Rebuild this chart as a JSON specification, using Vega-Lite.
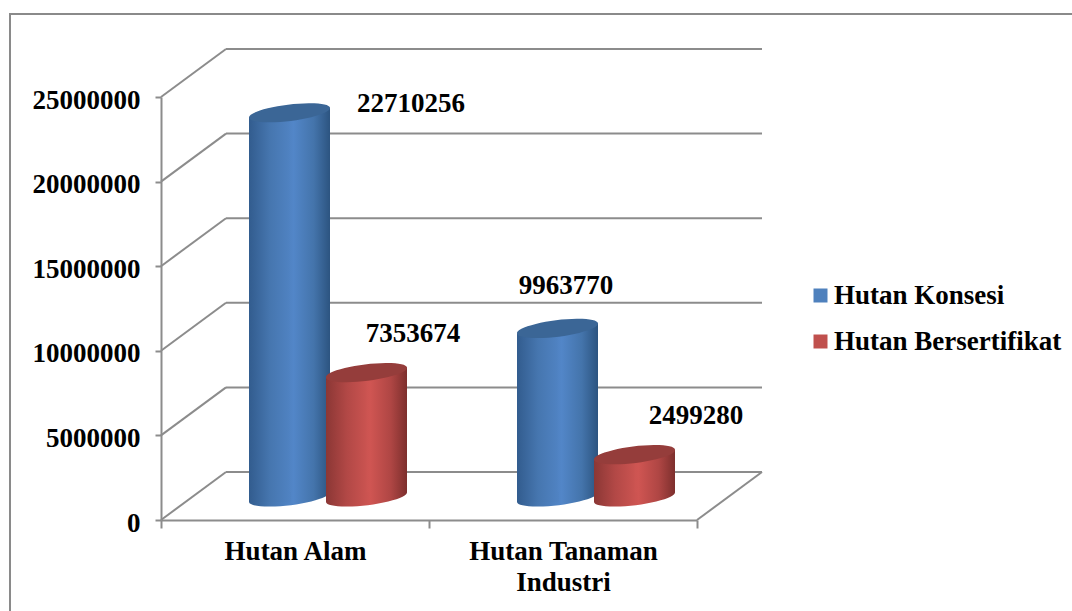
{
  "$schema": "https://vega.github.io/schema/vega-lite/v6.json",
  "width": 1064,
  "height": 620,
  "padding": {"left": 10, "top": 14, "right": 0, "bottom": 0},
  "autosize": {"type": "none"},
  "background": "white",
  "config": {
    "view": {"stroke": "#8a8a8a", "strokeWidth": 2},
    "font": "Liberation Serif",
    "axis": {"labelFont": "Liberation Serif", "labelFontWeight": "bold", "labelFontSize": 27, "labelColor": "black", "domainColor": "#8c8c8c", "tickColor": "#8c8c8c", "domainWidth": 2, "tickWidth": 2, "grid": false, "title": null},
    "legend": {"labelFont": "Liberation Serif", "labelFontWeight": "bold", "labelFontSize": 27, "labelColor": "black", "labelLimit": 400}
  },
  "datasets": {
    "grid": [
      {"value": 0}, {"value": 5000000}, {"value": 10000000},
      {"value": 15000000}, {"value": 20000000}, {"value": 25000000}
    ],
    "forest": [
      {"category": "Hutan Alam", "series": "Hutan Konsesi", "value": 22710256},
      {"category": "Hutan Alam", "series": "Hutan Bersertifikat", "value": 7353674},
      {"category": "Hutan Tanaman Industri", "series": "Hutan Konsesi", "value": 9963770},
      {"category": "Hutan Tanaman Industri", "series": "Hutan Bersertifikat", "value": 2499280}
    ]
  },
  "encoding": {
    "y": {
      "field": "value",
      "type": "quantitative",
      "scale": {"domain": [0, 25000000], "range": [506, 83], "nice": false, "zero": false},
      "axis": {"values": [0, 5000000, 10000000, 15000000, 20000000, 25000000], "format": "d", "offset": -151, "tickSize": 6, "labelPadding": 15, "labelOffset": 3}
    }
  },
  "layer": [
    {
      "data": {"name": "grid"},
      "encoding": {
        "x": {"datum": 0, "type": "quantitative", "scale": {"domain": [0, 2], "range": [151, 687], "nice": false, "zero": false}, "axis": null}
      },
      "layer": [
        {
          "mark": {"type": "rule", "color": "#8c8c8c", "strokeWidth": 2, "xOffset": 65, "x2Offset": 65, "yOffset": -48},
          "encoding": {"x2": {"datum": 2}}
        },
        {
          "mark": {"type": "rule", "color": "#8c8c8c", "strokeWidth": 2, "x2Offset": 65, "y2Offset": -48},
          "encoding": {"x2": {"datum": 0}, "y2": {"field": "value"}}
        },
        {
          "transform": [{"filter": "datum.value === 0"}],
          "mark": {"type": "rule", "color": "#8c8c8c", "strokeWidth": 2, "x2Offset": 65, "y2Offset": -48},
          "encoding": {"x": {"datum": 2, "type": "quantitative"}, "x2": {"datum": 2}, "y2": {"field": "value"}}
        }
      ]
    },
    {
      "data": {"name": "forest"},
      "encoding": {
        "x": {
          "field": "category",
          "type": "nominal",
          "sort": null,
          "scale": {"type": "band", "domain": ["Hutan Alam", "Hutan Tanaman Industri"], "range": [151, 687], "paddingInner": 0, "paddingOuter": 0},
          "axis": {
            "offset": -114,
            "tickBand": "extent",
            "tickSize": 8,
            "labelAngle": 0,
            "labelPadding": 10,
            "labelBaseline": "top",
            "labelLineHeight": 31,
            "labelLimit": 0,
            "labelExpr": "datum.label === 'Hutan Tanaman Industri' ? ['Hutan Tanaman', 'Industri'] : datum.label"
          }
        }
      },
      "layer": [
        {
          "mark": {"type": "point", "filled": true, "size": 1, "shape": "square", "opacity": 1},
          "encoding": {
            "color": {
              "field": "series",
              "type": "nominal",
              "scale": {"domain": ["Hutan Konsesi", "Hutan Bersertifikat"], "range": ["#4f81bd", "#c0504d"]},
              "legend": {"orient": "none", "legendX": 797, "legendY": 268, "title": null, "symbolType": "square", "symbolSize": 196, "symbolStrokeWidth": 0, "rowPadding": 18, "labelOffset": 0}
            }
          }
        },
        {
          "transform": [{"filter": "datum.series === 'Hutan Konsesi'"}],
          "layer": [
            {
              "mark": {"type": "point", "filled": true, "size": 6561, "opacity": 1, "xOffset": -5.5, "yOffset": -23,
                "shape": "M-1,0.125 A1.008,0.2 -7 1 1 1,-0.125 A1.008,0.2 -7 1 1 -1,0.125 Z",
                "fill": {"gradient": "linear", "x1": 0, "x2": 1, "y1": 0, "y2": 0, "stops": [{"offset": 0, "color": "#325c8e"}, {"offset": 0.25, "color": "#4676af"}, {"offset": 0.55, "color": "#5286c8"}, {"offset": 0.8, "color": "#4474ab"}, {"offset": 1, "color": "#2c5480"}]}},
              "encoding": {"y": {"datum": 0, "type": "quantitative"}}
            },
            {
              "mark": {"type": "bar", "size": 42, "xOffset": -25, "yOffset": -18, "y2Offset": -18,
                "fill": {"gradient": "linear", "x1": 0, "x2": 1, "y1": 0, "y2": 0, "stops": [{"offset": 0, "color": "#325c8e"}, {"offset": 0.5, "color": "#4676af"}, {"offset": 1, "color": "#5083c3"}]}},
              "encoding": {"y2": {"datum": 0}}
            },
            {
              "mark": {"type": "bar", "size": 40.5, "xOffset": 14.75, "yOffset": -28, "y2Offset": -28,
                "fill": {"gradient": "linear", "x1": 0, "x2": 1, "y1": 0, "y2": 0, "stops": [{"offset": 0, "color": "#5083c3"}, {"offset": 0.1, "color": "#5286c8"}, {"offset": 0.6, "color": "#4474ab"}, {"offset": 1, "color": "#2c5480"}]}},
              "encoding": {"y2": {"datum": 0}}
            },
            {
              "mark": {"type": "point", "filled": true, "size": 6561, "opacity": 1, "xOffset": -5.5, "yOffset": -23, "color": "#3b6696",
                "shape": "M-1,0.125 A1.008,0.2 -7 1 1 1,-0.125 A1.008,0.2 -7 1 1 -1,0.125 Z"}
            }
          ]
        },
        {
          "transform": [{"filter": "datum.series === 'Hutan Bersertifikat'"}],
          "layer": [
            {
              "mark": {"type": "point", "filled": true, "size": 6561, "opacity": 1, "xOffset": 71.5, "yOffset": -23,
                "shape": "M-1,0.125 A1.008,0.2 -7 1 1 1,-0.125 A1.008,0.2 -7 1 1 -1,0.125 Z",
                "fill": {"gradient": "linear", "x1": 0, "x2": 1, "y1": 0, "y2": 0, "stops": [{"offset": 0, "color": "#8b3735"}, {"offset": 0.25, "color": "#b24846"}, {"offset": 0.55, "color": "#cf5552"}, {"offset": 0.8, "color": "#af4644"}, {"offset": 1, "color": "#7d2f2d"}]}},
              "encoding": {"y": {"datum": 0, "type": "quantitative"}}
            },
            {
              "mark": {"type": "bar", "size": 42, "xOffset": 52, "yOffset": -18, "y2Offset": -18,
                "fill": {"gradient": "linear", "x1": 0, "x2": 1, "y1": 0, "y2": 0, "stops": [{"offset": 0, "color": "#8b3735"}, {"offset": 0.5, "color": "#b24846"}, {"offset": 1, "color": "#cc5451"}]}},
              "encoding": {"y2": {"datum": 0}}
            },
            {
              "mark": {"type": "bar", "size": 40.5, "xOffset": 91.75, "yOffset": -28, "y2Offset": -28,
                "fill": {"gradient": "linear", "x1": 0, "x2": 1, "y1": 0, "y2": 0, "stops": [{"offset": 0, "color": "#cc5451"}, {"offset": 0.1, "color": "#cf5552"}, {"offset": 0.6, "color": "#af4644"}, {"offset": 1, "color": "#7d2f2d"}]}},
              "encoding": {"y2": {"datum": 0}}
            },
            {
              "mark": {"type": "point", "filled": true, "size": 6561, "opacity": 1, "xOffset": 71.5, "yOffset": -23, "color": "#953d3b",
                "shape": "M-1,0.125 A1.008,0.2 -7 1 1 1,-0.125 A1.008,0.2 -7 1 1 -1,0.125 Z"}
            }
          ]
        },
        {
          "transform": [{"filter": "datum.value === 22710256"}],
          "mark": {"type": "text", "font": "Liberation Serif", "fontWeight": "bold", "fontSize": 27, "color": "black", "baseline": "middle", "dx": 116, "dy": -32},
          "encoding": {"text": {"field": "value", "type": "quantitative", "format": "d"}}
        },
        {
          "transform": [{"filter": "datum.value === 7353674"}],
          "mark": {"type": "text", "font": "Liberation Serif", "fontWeight": "bold", "fontSize": 27, "color": "black", "baseline": "middle", "dx": 118, "dy": -62},
          "encoding": {"text": {"field": "value", "type": "quantitative", "format": "d"}}
        },
        {
          "transform": [{"filter": "datum.value === 9963770"}],
          "mark": {"type": "text", "font": "Liberation Serif", "fontWeight": "bold", "fontSize": 27, "color": "black", "baseline": "middle", "dx": 3, "dy": -65},
          "encoding": {"text": {"field": "value", "type": "quantitative", "format": "d"}}
        },
        {
          "transform": [{"filter": "datum.value === 2499280"}],
          "mark": {"type": "text", "font": "Liberation Serif", "fontWeight": "bold", "fontSize": 27, "color": "black", "baseline": "middle", "dx": 133, "dy": -62},
          "encoding": {"text": {"field": "value", "type": "quantitative", "format": "d"}}
        }
      ]
    }
  ],
  "resolve": {"scale": {"x": "independent"}, "axis": {"x": "independent"}}
}
